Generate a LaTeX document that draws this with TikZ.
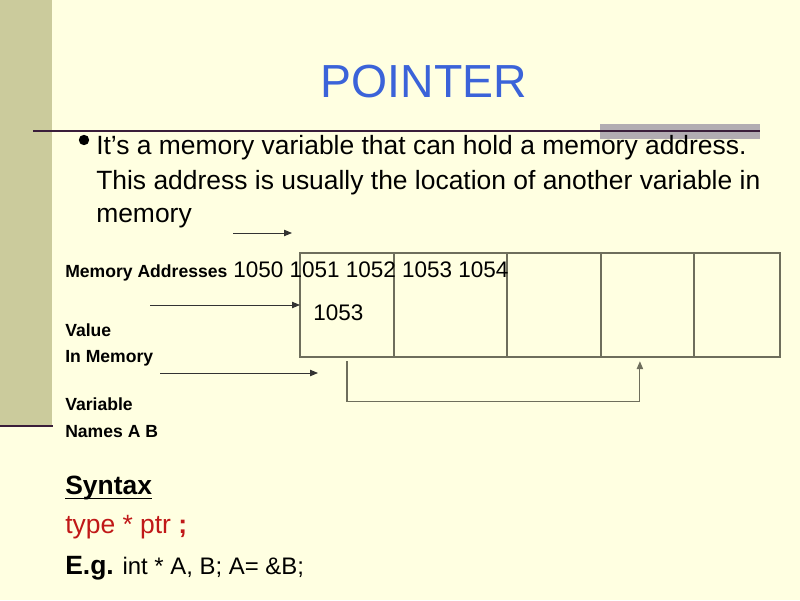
\documentclass[tikz,border=0pt]{standalone}
\usepackage{fontspec}
\setmainfont{Liberation Sans}
\usetikzlibrary{positioning,arrows.meta}
\definecolor{cPage}{HTML}{FFFFE1}
\definecolor{cBar}{HTML}{CBCB9C}
\definecolor{cRule}{HTML}{3A1E3A}
\definecolor{cTab}{HTML}{B2ADB2}
\definecolor{cTitle}{HTML}{3B63D9}
\definecolor{cCell}{HTML}{6E6E5C}
\definecolor{cRed}{HTML}{C01818}

\begin{document}
\begin{tikzpicture}[
  >={Triangle[length=2mm,width=1.6mm]},
  txt/.style={inner sep=0pt,anchor=base west},
  body/.style={txt,font=\fontsize{18.8}{22}\selectfont},
  tag/.style={txt,font=\fontsize{12.5}{15}\selectfont\bfseries},
  num/.style={txt,font=\fontsize{16}{19}\selectfont},
  cell/.style={draw=cCell,line width=0.8pt,minimum height=26mm,inner sep=0pt,outer sep=0pt},
  ptr/.style={->,line width=0.7pt,black!80},
]

% ---------- PAGE ----------
\fill[cPage] (0,0) rectangle (20,15);
\useasboundingbox (0,0) rectangle (20,15);
\fill[cBar] (0,15) rectangle (1.3,4.375);
\draw[cRule,line width=1.4pt] (0,4.35) -- (1.32,4.35);
\fill[cTab] (15,11.9) rectangle (19,11.525);
\draw[cRule,line width=0.9pt] (0.825,11.725) -- (19,11.725);

% ---------- TITLE ----------
\node[font=\fontsize{33}{38}\selectfont,text=cTitle] (title) at (10.6,12.95) {POINTER};

% ---------- BULLET ----------
\fill[black] (2.1,11.5) circle (0.13);
\node[body] (bul1) at (2.4,11.125) {It’s a memory variable that can hold a memory address.};
\node[body] (bul2) at (2.4,10.25) {This address is usually the location of another variable in};
\node[body] (bul3) at (2.4,9.425) {memory};

% ---------- MEMORY CELLS ----------
\node[cell,minimum width=23.5mm] (cellA) at (8.675,7.375) {};
\node[cell,minimum width=28.25mm,right=0pt of cellA] (cellB) {};
\node[cell,minimum width=23.5mm,right=0pt of cellB] (cellC) {};
\node[cell,minimum width=23.25mm,right=0pt of cellC] (cellD) {};
\node[cell,minimum width=21.5mm,right=0pt of cellD] (cellE) {};

\node[tag] (addrlbl) at (1.625,8.075) {Memory Addresses};
\node[num] (addrs) at (5.825,8.075) {1050 1051 1052 1053 1054};
\node[num] (valA) at (7.825,7.0) {1053};

\node[tag] (vallbl1) at (1.625,6.6) {Value};
\node[tag] (vallbl2) at (1.625,5.95) {In Memory};
\node[tag] (varlbl1) at (1.625,4.75) {Variable};
\node[tag] (varlbl2) at (1.625,4.075) {Names A B};

% ---------- ARROWS ----------
\coordinate (topTail) at (5.825,9.175);
\coordinate (topHead) at (7.3,9.175);
\coordinate (valTail) at (3.75,7.375);
\coordinate (varTail) at (4.0,5.675);
\coordinate (varHead) at (7.95,5.675);
\draw[ptr] (topTail) -- (topHead);
\draw[ptr] (valTail) -- (cellA.west);
\draw[ptr] (varTail) -- (varHead);
\draw[->,line width=0.8pt,cCell] ([yshift=-3pt]cellA.south) -- ++(0,-1) -| ([xshift=-1.9mm,yshift=-3pt]cellD.south);

% ---------- SYNTAX ----------
\node[txt,font=\fontsize{18.8}{22}\selectfont\bfseries] (syn) at (1.625,2.65) {Syntax};
\draw[line width=1pt] ([yshift=-3pt]syn.base west) -- ([yshift=-3pt]syn.base east);
\node[body,text=cRed] (form) at (1.625,1.675) {type * ptr \textbf{;}};
\node[txt,font=\fontsize{17}{20}\selectfont] (eg) at (1.625,0.65) {{\fontsize{18.8}{22}\selectfont\bfseries E.g.} int * A, B; A= \&B;};

\end{tikzpicture}
\end{document}
